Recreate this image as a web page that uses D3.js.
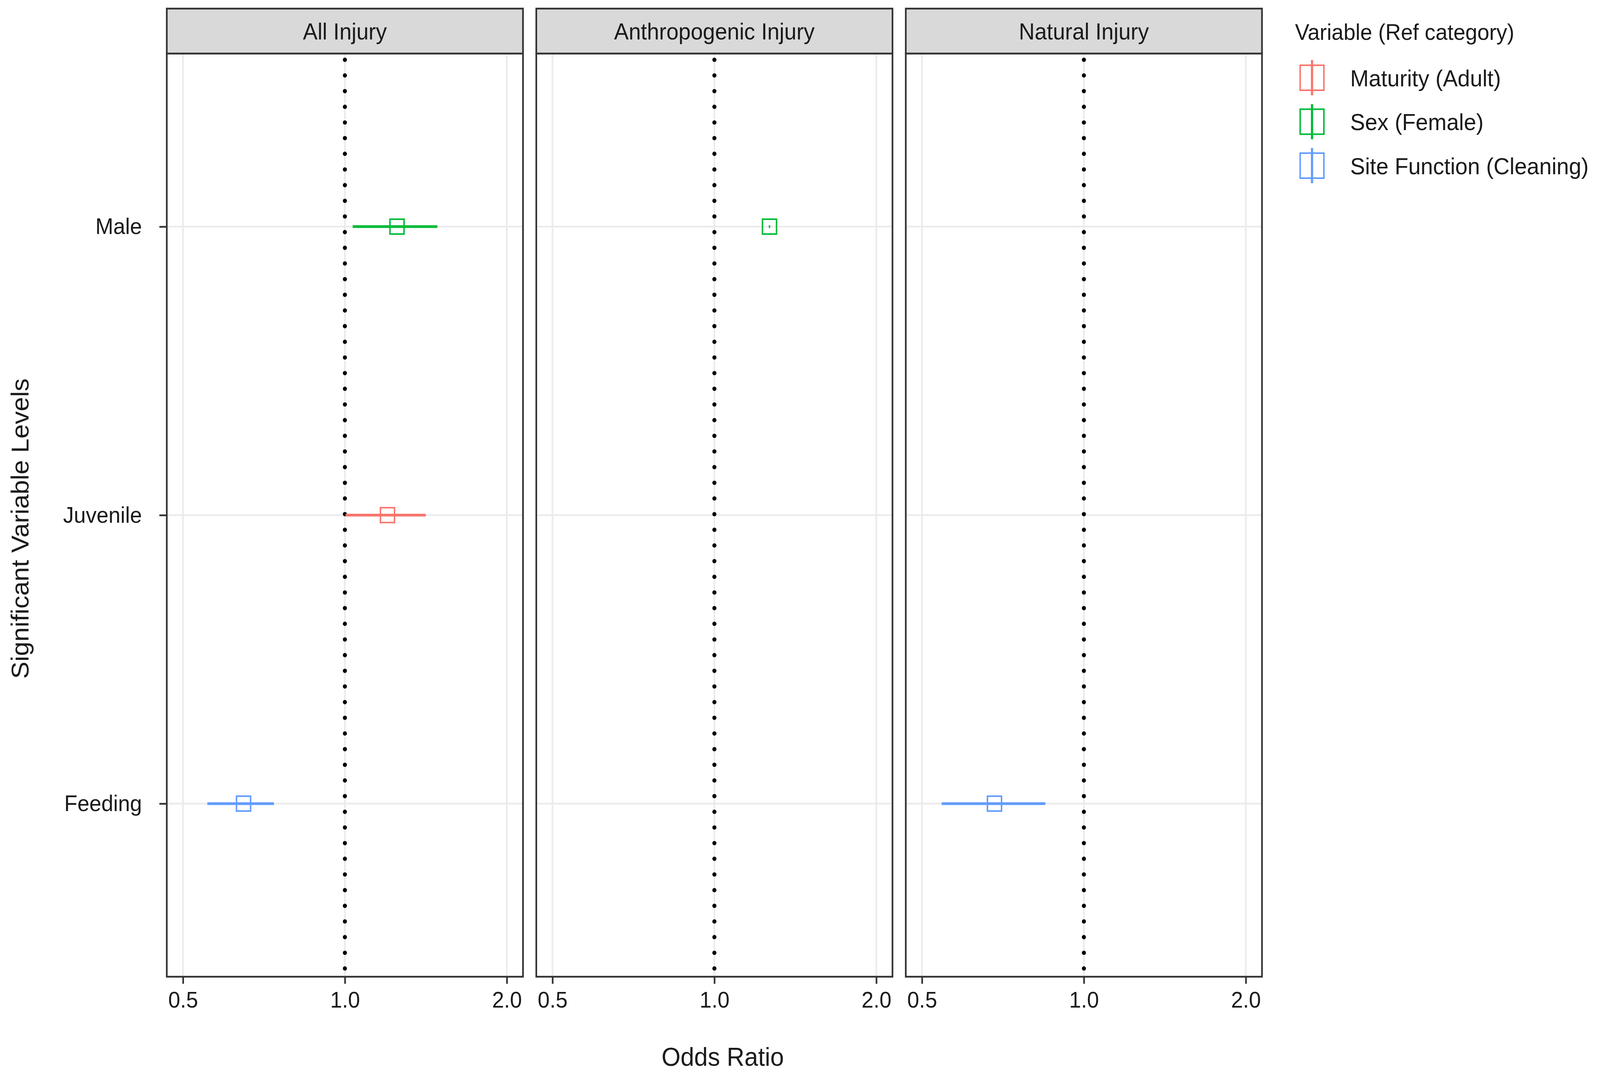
<!DOCTYPE html>
<html>
<head>
<meta charset="utf-8">
<script src="https://cdn.jsdelivr.net/npm/d3@7"></script>
<style>
  html, body { margin: 0; padding: 0; background: #ffffff; overflow: hidden; }
  svg { display: block; width: 100vw; height: 100vh; }
  text { font-family: "Liberation Sans", Arial, "DejaVu Sans", sans-serif; fill: #1a1a1a; }
</style>
</head>
<body>
<svg id="chart" viewBox="0 0 4317 2749" preserveAspectRatio="none"></svg>
<script>
// ---------------- DATA ----------------
const panels = ["All Injury", "Anthropogenic Injury", "Natural Injury"];
const levels = ["Male", "Juvenile", "Feeding"];
const variables = ["Maturity (Adult)", "Sex (Female)", "Site Function (Cleaning)"];
const variableColors = ["#F8766D", "#00BA38", "#619CFF"];
const xTickValues = [0.5, 1.0, 2.0];
const xDomain = [0.5, 2.0];
const refLine = 1.0;

const estPanel = ["All Injury", "All Injury", "All Injury", "Anthropogenic Injury", "Natural Injury"];
const estLevel = ["Male", "Juvenile", "Feeding", "Male", "Feeding"];
const estVariable = ["Sex (Female)", "Maturity (Adult)", "Site Function (Cleaning)", "Sex (Female)", "Site Function (Cleaning)"];
const estOR = [1.25, 1.20, 0.648, 1.266, 0.682];
const estLower = [1.034, 1.003, 0.555, 1.262, 0.544];
const estUpper = [1.486, 1.414, 0.738, 1.270, 0.848];

const xTitle = "Odds Ratio";
const yTitle = "Significant Variable Levels";
const legendTitle = "Variable (Ref category)";

// ---------------- LAYOUT ----------------
const svg = d3.select("#chart");
const panelTop = 137, panelBottom = 2500, stripTop = 22;
const borderCol = "#333333", gridCol = "#EBEBEB";
const fontFam = '"Liberation Sans", Arial, sans-serif';

const colorScale = d3.scaleOrdinal().domain(variables).range(variableColors);

const panelScale = d3.scaleBand().domain(panels).range([450, 3405]).paddingInner(0.036);
const bw = panelScale.bandwidth();
const xPad = bw * 0.05 / 1.1;

const yScale = d3.scalePoint().domain(levels).range([panelTop, panelBottom]).padding(0.6);

const rows = estOR.map((v, i) => ({
  panel: estPanel[i], level: estLevel[i], variable: estVariable[i],
  or: v, lo: estLower[i], hi: estUpper[i]
}));

svg.append("rect").attr("x", 0).attr("y", 0).attr("width", 4317).attr("height", 2749).attr("fill", "#ffffff");

panels.forEach((p, pi) => {
  const left = panelScale(p);
  const x = d3.scaleLog().domain(xDomain).range([left + xPad, left + bw - xPad]);
  const g = svg.append("g");

  g.append("rect").attr("x", left).attr("y", panelTop).attr("width", bw)
    .attr("height", panelBottom - panelTop).attr("fill", "#ffffff");

  // grid lines
  g.selectAll(".vgrid").data(xTickValues).join("line")
    .attr("x1", d => x(d)).attr("x2", d => x(d))
    .attr("y1", panelTop).attr("y2", panelBottom)
    .attr("stroke", gridCol).attr("stroke-width", 4.5);
  g.selectAll(".hgrid").data(levels).join("line")
    .attr("x1", left).attr("x2", left + bw)
    .attr("y1", d => yScale(d)).attr("y2", d => yScale(d))
    .attr("stroke", gridCol).attr("stroke-width", 4.5);

  // reference dotted line
  g.append("line")
    .attr("x1", x(refLine)).attr("x2", x(refLine))
    .attr("y1", panelTop + 16).attr("y2", panelBottom)
    .attr("stroke", "#000").attr("stroke-width", 11)
    .attr("stroke-linecap", "round")
    .attr("stroke-dasharray", "0.1 40");

  // error bars + points
  const pr = rows.filter(r => r.panel === p);
  g.selectAll(".ci").data(pr).join("line")
    .attr("x1", d => x(d.lo)).attr("x2", d => x(d.hi))
    .attr("y1", d => yScale(d.level)).attr("y2", d => yScale(d.level))
    .attr("stroke", d => colorScale(d.variable)).attr("stroke-width", 7);
  const sq = 38;
  g.selectAll(".pt").data(pr).join("rect")
    .attr("x", d => x(d.or) - sq / 2).attr("y", d => yScale(d.level) - sq / 2)
    .attr("width", sq).attr("height", sq)
    .attr("fill", "none").attr("stroke", d => colorScale(d.variable)).attr("stroke-width", 4);

  // panel border
  g.append("rect").attr("x", left).attr("y", panelTop).attr("width", bw)
    .attr("height", panelBottom - panelTop)
    .attr("fill", "none").attr("stroke", borderCol).attr("stroke-width", 4.5);

  // strip
  g.append("rect").attr("x", left).attr("y", stripTop).attr("width", bw)
    .attr("height", panelTop - stripTop)
    .attr("fill", "#D9D9D9").attr("stroke", borderCol).attr("stroke-width", 4.5);
  g.append("text").attr("x", left + bw / 2).attr("y", 101)
    .attr("text-anchor", "middle").attr("font-size", 59).text(p);

  // x axis
  const xa = svg.append("g").attr("transform", `translate(0,${panelBottom})`)
    .call(d3.axisBottom(x).tickValues(xTickValues).tickFormat(d3.format(".1f"))
      .tickSize(18).tickPadding(20));
  xa.select(".domain").remove();
  xa.selectAll(".tick line").attr("stroke", borderCol).attr("stroke-width", 4.5);
  xa.selectAll(".tick text").attr("font-size", 58)
    .attr("font-family", fontFam).attr("fill", "#1a1a1a");

  // y axis (first panel only)
  if (pi === 0) {
    const ya = svg.append("g").attr("transform", `translate(${left},0)`)
      .call(d3.axisLeft(yScale).tickSize(20).tickPadding(47));
    ya.select(".domain").remove();
    ya.selectAll(".tick line").attr("stroke", borderCol).attr("stroke-width", 4.5);
    ya.selectAll(".tick text").attr("font-size", 58)
      .attr("font-family", fontFam).attr("fill", "#1a1a1a");
  }
});

// axis titles
svg.append("text").attr("x", 1950).attr("y", 2728)
  .attr("text-anchor", "middle").attr("font-size", 66).text(xTitle);
svg.append("text").attr("transform", "translate(77,1353) rotate(-90)")
  .attr("text-anchor", "middle").attr("font-size", 66).text(yTitle);

// legend
const legend = svg.append("g");
legend.append("text").attr("x", 3494).attr("y", 102).attr("font-size", 58).text(legendTitle);
const legY = d3.scalePoint().domain(variables).range([199, 424]);
const keyX = 3540;
const items = legend.selectAll(".item").data(variables).join("g")
  .attr("transform", d => `translate(0,${legY(d)})`);
items.append("rect").attr("x", keyX - 32).attr("y", -32).attr("width", 64).attr("height", 64)
  .attr("fill", "none").attr("stroke", d => colorScale(d)).attr("stroke-width", 4);
items.append("line").attr("x1", keyX).attr("x2", keyX).attr("y1", -45).attr("y2", 45)
  .attr("stroke", d => colorScale(d)).attr("stroke-width", 6);
items.append("text").attr("x", 3643).attr("y", 0).attr("dy", "0.36em")
  .attr("font-size", 60).text(d => d);
</script>
</body>
</html>
